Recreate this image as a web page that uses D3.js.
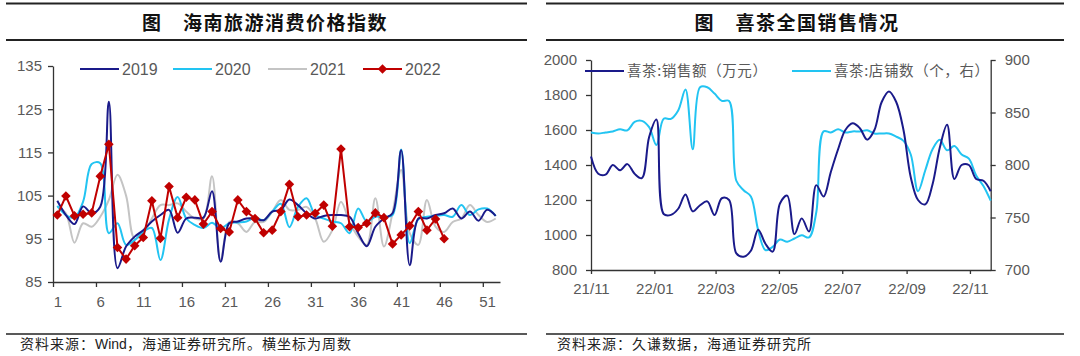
<!DOCTYPE html>
<html><head><meta charset="utf-8">
<script src="https://cdn.jsdelivr.net/npm/d3@7/dist/d3.min.js"></script>
<style>
html,body{margin:0;padding:0;background:#fff;}
svg{display:block;}
</style></head>
<body>
<svg id="c" width="1080" height="356"></svg>
<script>
// ---------- Left chart data: 海南旅游消费价格指数 (weekly) ----------
const weeks = d3.range(1, 53);
const xTickLabels = [1, 6, 11, 16, 21, 26, 31, 36, 41, 46, 51];
const yTicksLeft = [85, 95, 105, 115, 125, 135];
const s2019 = [103.8,100.5,98.4,102.5,100.9,102.4,126.7,88.2,93.2,95.5,97.0,99.0,100.5,101.7,96.4,99.7,99.9,99.9,106.0,89.7,98.6,99.0,99.7,99.7,99.3,101.3,101.7,104.1,102.8,100.9,99.7,100.3,100.5,100.5,100.1,96.3,93.3,97.8,99.7,100.9,115.5,88.9,99.7,99.7,100.5,100.9,102.0,99.7,101.3,99.2,101.7,100.3];
const s2020 = [102.6,100.5,99.9,103.6,112.3,112.5,96.3,98.6,93.6,94.7,96.6,97.5,90.1,99.5,104.7,99.7,98.2,97.5,98.7,97.4,98.6,98.8,99.0,99.9,99.3,101.3,103.1,97.7,102.4,104.4,100.5,99.7,99.0,98.6,96.3,102.0,99.0,100.1,100.1,100.5,115.7,94.0,99.5,100.1,100.3,100.5,100.1,102.8,100.5,101.8,102.0,100.3];
const s2021 = [102.4,100.9,94.1,98.6,97.8,100.1,104.0,109.8,105.0,95.0,96.3,99.7,102.8,102.8,103.2,101.3,99.7,99.7,109.5,90.1,98.9,98.6,96.6,98.9,98.9,101.3,104.0,101.7,101.7,102.4,99.7,94.3,97.0,103.6,98.9,95.5,93.6,104.4,93.2,101.0,110.9,96.3,93.6,104.0,97.8,96.6,98.9,99.7,102.8,100.5,98.9,99.7];
const s2022 = [100.5,104.9,100.3,100.7,101.0,109.5,116.9,93.0,90.3,93.4,95.3,103.8,95.1,107.1,99.9,104.6,104.0,98.4,101.3,97.4,96.6,104.0,101.3,99.7,96.4,97.0,101.3,107.6,100.1,100.5,100.9,102.8,97.9,115.8,97.8,97.6,98.6,101.0,99.9,93.8,95.9,98.0,101.3,97.0,99.6,95.0];
const seriesNames = ["2019", "2020", "2021", "2022"];

// ---------- Right chart data: 喜茶全国销售情况 (weekly from 2021-11-01) ----------
const startDate = "2021-11-01";
const salesValues = [1448,1350,1345,1400,1370,1405,1350,1325,1560,1660,1120,1115,1150,1232,1135,1170,1192,1114,1210,1200,895,876,910,1030,950,905,1180,1225,1005,1095,1020,1285,1220,1360,1490,1600,1638,1610,1545,1600,1760,1820,1760,1600,1330,1200,1175,1290,1500,1630,1320,1400,1400,1320,1310,1250];
const storeValues = [831,830,831,832,834,833,841,842,836,819,844,844,852,872,815,874,874,868,861,861,785,776,770,738,719,722,729,727,730,733,731,755,832,831,834,831,832,832,833,830,830,830,827,823,810,775,795,815,824,814,818,810,806,790,780,766];
const monthTicks = ["2021-11-01","2022-01-01","2022-03-01","2022-05-01","2022-07-01","2022-09-01","2022-11-01"];
const yTicksSales = [800,1000,1200,1400,1600,1800,2000];
const yTicksStores = [700,750,800,850,900];
const legendRight = ["喜茶:销售额（万元）", "喜茶:店铺数（个，右）"];

const svg = d3.select("#c");
const NAVY = "#1a1a8a", CYAN = "#22c4f2", GRAY = "#c4c4c4", RED = "#c00000";
const TXT = "#595959", AX = "#333";
const NUMFONT = "'Liberation Sans', Arial, sans-serif";
const CJK = "'Noto Sans CJK SC', 'Noto Sans', sans-serif";

// ---------- frame lines & titles ----------
function frame(x0, x1, cx, title) {
  svg.append("line").attr("x1", x0).attr("x2", x1).attr("y1", 3.5).attr("y2", 3.5).attr("stroke", "#222").attr("stroke-width", 1.8);
  svg.append("line").attr("x1", x0).attr("x2", x1).attr("y1", 40).attr("y2", 40).attr("stroke", "#222").attr("stroke-width", 1.8);
  svg.append("line").attr("x1", x0).attr("x2", x1).attr("y1", 334).attr("y2", 334).attr("stroke", "#222").attr("stroke-width", 1.6);
  svg.append("text").attr("x", cx).attr("y", 23).attr("dy", "0.35em").attr("text-anchor", "middle")
    .attr("font-family", CJK).attr("font-weight", 700).attr("font-size", 19).attr("letter-spacing", 1.5)
    .attr("fill", "#111").text(title);
}
frame(6, 527, 265, "图　海南旅游消费价格指数");
frame(546, 1064, 797, "图　喜茶全国销售情况");

const foot = svg.append("text").attr("x", 20).attr("y", 349).attr("font-family", CJK).attr("font-size", 14).attr("fill", "#222").attr("letter-spacing", 1);
foot.append("tspan").text("资料来源：");
foot.append("tspan").attr("font-family", NUMFONT).attr("letter-spacing", 0).text("Wind");
foot.append("tspan").text("，海通证券研究所。横坐标为周数");
svg.append("text").attr("x", 557).attr("y", 349).attr("font-family", CJK).attr("font-size", 14).attr("fill", "#222").attr("letter-spacing", 1)
  .text("资料来源：久谦数据，海通证券研究所");

function styleAxis(g) {
  g.selectAll("path.domain").attr("stroke", AX).attr("stroke-width", 1.3);
  g.selectAll(".tick line").attr("stroke", AX).attr("stroke-width", 1.3);
  g.selectAll(".tick text").attr("fill", TXT).attr("font-family", NUMFONT).attr("font-size", 15);
}

// ---------- Left chart ----------
const xL = d3.scaleLinear().domain([0.5, 52.5]).range([53, 500]);
const yL = d3.scaleLinear().domain([85, 135]).range([282, 66]);

const gl = svg.append("g");
gl.append("g").attr("transform", "translate(0,282)")
  .call(d3.axisBottom(xL).tickValues(d3.range(0, 11).map(n => 0.5 + 5 * n)).tickFormat("").tickSize(5).tickSizeOuter(0))
  .call(styleAxis);
gl.append("g").attr("transform", "translate(0,282)")
  .call(d3.axisBottom(xL).tickValues(xTickLabels).tickFormat(d3.format("d")).tickSize(0).tickPadding(14))
  .call(g => g.select("path.domain").remove())
  .call(styleAxis);
gl.append("g").attr("transform", "translate(53,0)")
  .call(d3.axisLeft(yL).tickValues(yTicksLeft).tickFormat(d3.format("d")).tickSize(5).tickPadding(6).tickSizeOuter(0))
  .call(styleAxis);

const lineL = d3.line().x((d, i) => xL(weeks[i])).y(d => yL(d)).curve(d3.curveCatmullRom.alpha(0.5));
const plotL = gl.append("g");
[[s2021, GRAY], [s2020, CYAN], [s2019, NAVY]].forEach(([s, c]) => {
  plotL.append("path").attr("d", lineL(s)).attr("fill", "none").attr("stroke", c).attr("stroke-width", 2);
});
const lineLin = d3.line().x((d, i) => xL(weeks[i])).y(d => yL(d));
plotL.append("path").attr("d", lineLin(s2022)).attr("fill", "none").attr("stroke", RED).attr("stroke-width", 2);
const diamond = d3.symbol().type(d3.symbolSquare).size(46)();
plotL.selectAll("path.mk").data(s2022).join("path").attr("class", "mk")
  .attr("d", diamond).attr("fill", RED)
  .attr("transform", (d, i) => `translate(${xL(weeks[i])},${yL(d)}) rotate(45)`);

// legend left
const legX = [80, 173, 268, 363];
const legC = [NAVY, CYAN, GRAY, RED];
seriesNames.forEach((n, i) => {
  const g = gl.append("g");
  g.append("line").attr("x1", legX[i]).attr("x2", legX[i] + 39).attr("y1", 69).attr("y2", 69).attr("stroke", legC[i]).attr("stroke-width", 2);
  if (i === 3) g.append("path").attr("d", diamond).attr("fill", RED).attr("transform", `translate(${legX[i] + 19.5},69) rotate(45)`);
  g.append("text").attr("x", legX[i] + 42).attr("y", 69).attr("dy", "0.36em").attr("font-family", NUMFONT).attr("font-size", 16).attr("fill", TXT).text(n);
});

// ---------- Right chart ----------
const parse = d3.timeParse("%Y-%m-%d");
const d0 = parse(startDate);
const dates = salesValues.map((v, i) => d3.timeDay.offset(d0, 7 * i));
const xR = d3.scaleTime().domain([d0, d3.timeDay.offset(d0, 385)]).range([591, 990.7]);
const ySales = d3.scaleLinear().domain([800, 2000]).range([270, 60]);
const yStores = d3.scaleLinear().domain([700, 900]).range([270, 60]);

const gr = svg.append("g");
gr.append("g").attr("transform", "translate(0,270)")
  .call(d3.axisBottom(xR).tickValues(monthTicks.map(parse)).tickFormat(d3.timeFormat("%y/%m")).tickSize(4).tickPadding(9).tickSizeOuter(0))
  .call(styleAxis);
gr.append("g").attr("transform", "translate(591,0)")
  .call(d3.axisLeft(ySales).tickValues(yTicksSales).tickFormat(d3.format("d")).tickSize(5).tickPadding(9).tickSizeOuter(0))
  .call(styleAxis);
gr.append("g").attr("transform", "translate(990.7,0)")
  .call(d3.axisRight(yStores).tickValues(yTicksStores).tickFormat(d3.format("d")).tickSize(5).tickPadding(9).tickSizeOuter(0))
  .call(styleAxis);

const lineS = d3.line().x((d, i) => xR(dates[i])).y(d => ySales(d)).curve(d3.curveCatmullRom.alpha(0.5));
const lineT = d3.line().x((d, i) => xR(dates[i])).y(d => yStores(d)).curve(d3.curveCatmullRom.alpha(0.5));
gr.append("path").attr("d", lineT(storeValues)).attr("fill", "none").attr("stroke", CYAN).attr("stroke-width", 2);
gr.append("path").attr("d", lineS(salesValues)).attr("fill", "none").attr("stroke", NAVY).attr("stroke-width", 2);

// legend right
const legRX = [585, 792];
const legRC = [NAVY, CYAN];
legendRight.forEach((n, i) => {
  gr.append("line").attr("x1", legRX[i]).attr("x2", legRX[i] + 39).attr("y1", 71).attr("y2", 71).attr("stroke", legRC[i]).attr("stroke-width", 2);
  gr.append("text").attr("x", legRX[i] + 42).attr("y", 71).attr("dy", "0.36em").attr("font-family", CJK).attr("font-size", 14.5).attr("fill", TXT).attr("letter-spacing", 0.6).text(n);
});
</script>
</body></html>
